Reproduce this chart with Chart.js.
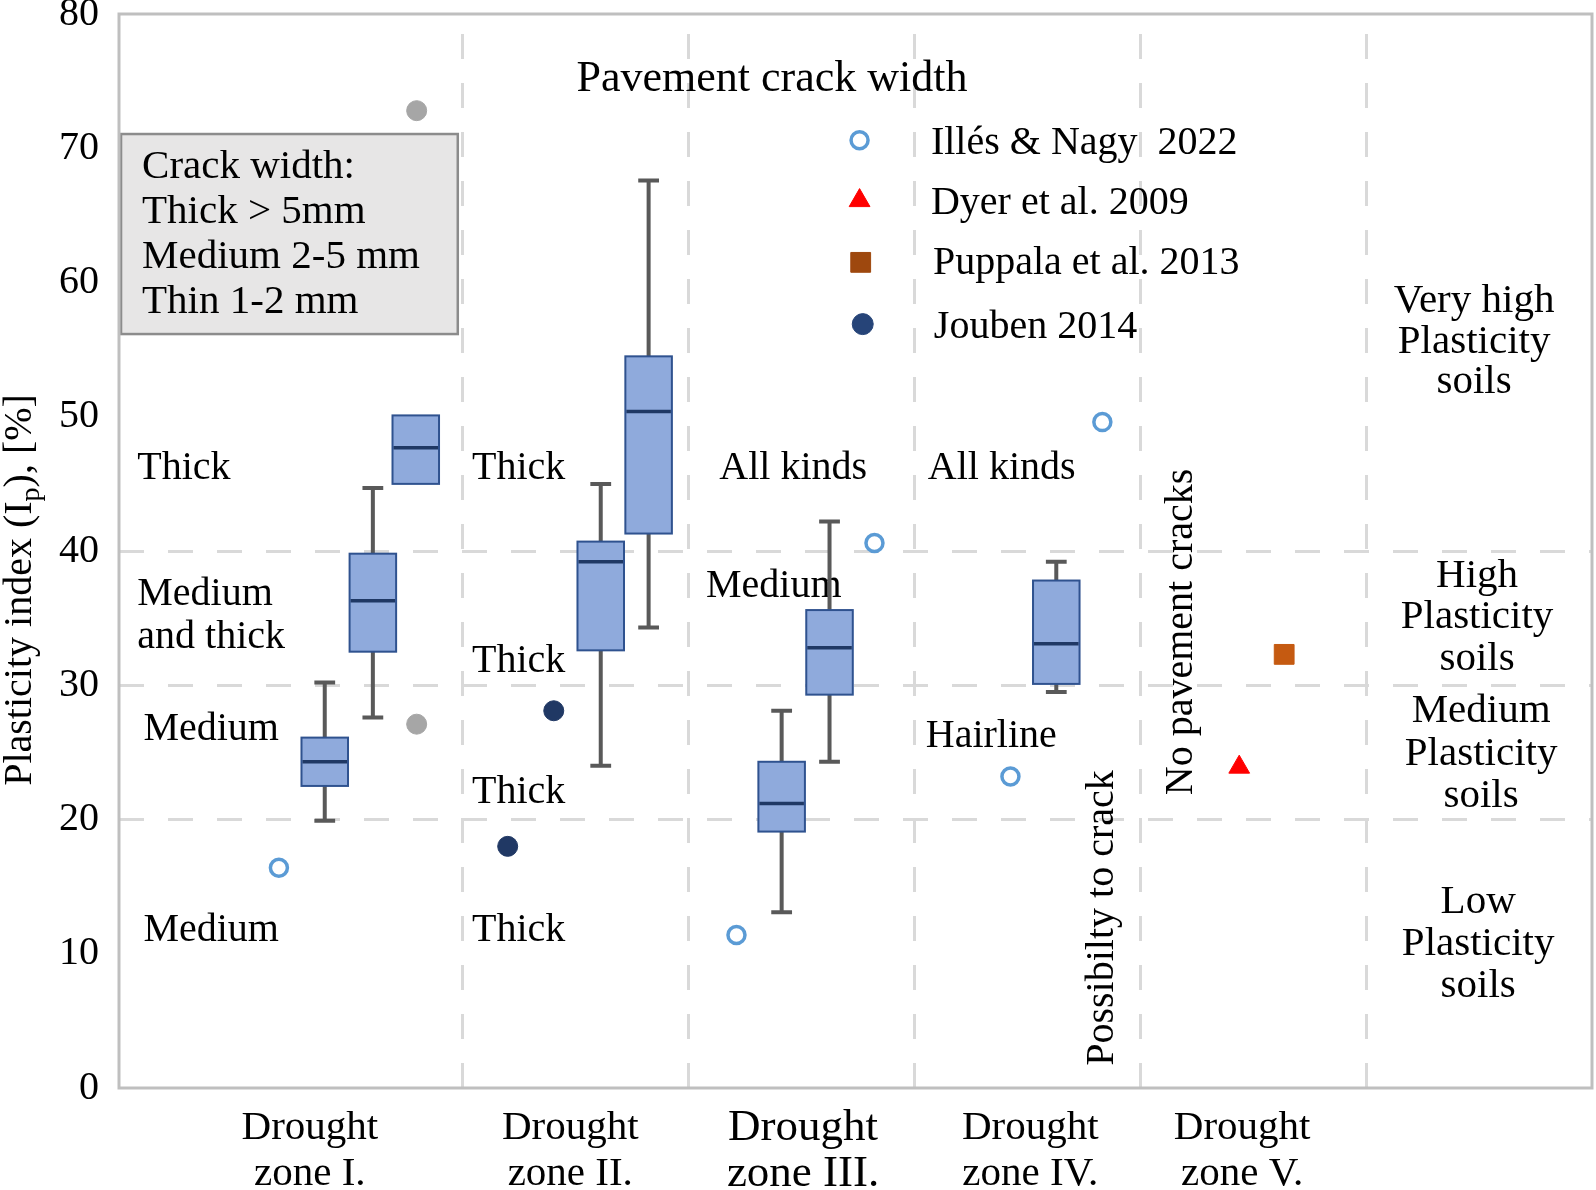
<!DOCTYPE html>
<html>
<head>
<meta charset="utf-8">
<script src="https://cdn.jsdelivr.net/npm/chart.js@4.4.1/dist/chart.umd.min.js"></script>
<style>
  html, body { margin: 0; padding: 0; background: #ffffff; }
  #wrap { width: 1596px; height: 1190px; }
</style>
</head>
<body>
<div id="wrap"><canvas id="c" width="1596" height="1190"></canvas></div>
<script>
// ---------------- data ----------------
const categories = [
  ['Drought', 'zone I.'],
  ['Drought', 'zone II.'],
  ['Drought', 'zone III.'],
  ['Drought', 'zone IV.'],
  ['Drought', 'zone V.']
];
const categoryTickPos = [0.323, 1.476, 2.507, 3.513, 4.451];
const zoneBoundaries = [1, 2, 3, 4, 5];
const plasticityLimits = [20, 30, 40];

// box plots (Illés & Nagy 2022 measurements)
const boxX   = [0.389, 0.602, 0.792, 1.611, 1.823, 2.412, 2.624, 3.628];
const boxMin = [19.9, 27.6, 45.0, 24.0, 34.3, 13.1, 24.3, 29.5];
const boxQ1  = [22.5, 32.5, 45.0, 32.6, 41.3, 19.1, 29.3, 30.1];
const boxMed = [24.3, 36.3, 47.7, 39.2, 50.4, 21.2, 32.8, 33.1];
const boxQ3  = [26.1, 39.8, 50.1, 40.7, 54.5, 24.3, 35.6, 37.8];
const boxMax = [30.2, 44.7, 50.1, 45.0, 67.6, 28.1, 42.2, 39.2];

const outlierX = [0.796, 0.796];
const outlierY = [72.8, 27.1];
const illesX = [0.186, 2.212, 2.823, 3.425, 3.832];
const illesY = [16.4, 11.4, 40.6, 23.2, 49.6];
const dyerX = [4.438];
const dyerY = [23.9];
const puppalaX = [4.637];
const puppalaY = [32.3];
const joubenX = [1.199, 1.403];
const joubenY = [18.0, 28.1];

const seriesNames = ['Illés & Nagy  2022', 'Dyer et al. 2009', 'Puppala et al. 2013', 'Jouben 2014'];

// ---------------- layout (text positions in data units) ----------------
const FONT = '"Liberation Serif", "Times New Roman", Times, serif';
const X_MIN = -0.522, X_MAX = 6;

const crackNotes = [
  ['Thick', -0.441, 45.4], ['Medium', -0.441, 36.0], ['and thick', -0.441, 32.8],
  ['Medium', -0.414, 25.9], ['Medium', -0.414, 10.95],
  ['Thick', 1.041, 45.4], ['Thick', 1.041, 31.0], ['Thick', 1.041, 21.2], ['Thick', 1.041, 10.95],
  ['All kinds', 2.136, 45.4], ['Medium', 2.077, 36.6],
  ['All kinds', 3.059, 45.4], ['Hairline', 3.050, 25.4]
];
const soilNotes = [
  [['Very high', 'Plasticity', 'soils'], 5.478, [57.80, 54.75, 51.77]],
  [['High', 'Plasticity', 'soils'], 5.491, [37.32, 34.26, 31.14]],
  [['Medium', 'Plasticity', 'soils'], 5.509, [27.26, 24.06, 20.93]],
  [['Low', 'Plasticity', 'soils'], 5.496, [13.04, 9.91, 6.78]]
];
const crackBoxLines = ['Crack width:', 'Thick > 5mm', 'Medium 2-5 mm', 'Thin 1-2 mm'];

function toXY(xs, ys) { return xs.map((x, i) => ({ x: x, y: ys[i] })); }

const overlayPlugin = {
  id: 'overlay',
  beforeDatasetsDraw(chart) {
    const ctx = chart.ctx;
    const sx = v => chart.scales.x.getPixelForValue(v);
    const sy = v => chart.scales.y.getPixelForValue(v);
    ctx.save();
    // crack width box
    const bx1 = sx(-0.513), bx2 = sx(0.978), by1 = sy(71.06), by2 = sy(56.16);
    ctx.fillStyle = '#e7e6e6';
    ctx.fillRect(bx1, by1, bx2 - bx1, by2 - by1);
    ctx.strokeStyle = '#8c8c8c';
    ctx.lineWidth = 2.5;
    ctx.strokeRect(bx1, by1, bx2 - bx1, by2 - by1);
    ctx.fillStyle = '#000';
    ctx.textBaseline = 'alphabetic';
    ctx.textAlign = 'left';
    ctx.font = '41px ' + FONT;
    const boxBase = [67.78, 64.43, 61.08, 57.73];
    crackBoxLines.forEach((t, i) => ctx.fillText(t, sx(-0.420), sy(boxBase[i])));

    // title
    ctx.font = '44px ' + FONT;
    ctx.fillText('Pavement crack width', sx(1.504), sy(74.26));

    // crack notes
    ctx.font = '40px ' + FONT;
    crackNotes.forEach(n => ctx.fillText(n[0], sx(n[1]), sy(n[2])));

    // soil classes
    ctx.textAlign = 'center';
    ctx.font = '41px ' + FONT;
    soilNotes.forEach(s => s[0].forEach((t, i) => ctx.fillText(t, sx(s[1]), sy(s[2][i]))));

    // vertical notes
    ctx.font = '40px ' + FONT;
    [['Possibilty to crack', 3.881, 12.66], ['No pavement cracks', 4.230, 33.97]].forEach(n => {
      ctx.save();
      ctx.translate(sx(n[1]), sy(n[2]));
      ctx.rotate(-Math.PI / 2);
      ctx.textAlign = 'center';
      ctx.fillText(n[0], 0, 0);
      ctx.restore();
    });

    // box plots
    const halfW = 0.103, capHalf = 0.046;
    for (let i = 0; i < boxX.length; i++) {
      const xc = sx(boxX[i]);
      const xl = sx(boxX[i] - halfW), xr = sx(boxX[i] + halfW);
      const cl = sx(boxX[i] - capHalf), cr = sx(boxX[i] + capHalf);
      ctx.strokeStyle = '#595959';
      ctx.lineWidth = 4;
      ctx.lineCap = 'butt';
      if (boxMax[i] > boxQ3[i]) {
        ctx.beginPath();
        ctx.moveTo(xc, sy(boxQ3[i])); ctx.lineTo(xc, sy(boxMax[i]));
        ctx.moveTo(cl, sy(boxMax[i])); ctx.lineTo(cr, sy(boxMax[i]));
        ctx.stroke();
      }
      if (boxMin[i] < boxQ1[i]) {
        ctx.beginPath();
        ctx.moveTo(xc, sy(boxQ1[i])); ctx.lineTo(xc, sy(boxMin[i]));
        ctx.moveTo(cl, sy(boxMin[i])); ctx.lineTo(cr, sy(boxMin[i]));
        ctx.stroke();
      }
      const yt = sy(boxQ3[i]), yb = sy(boxQ1[i]);
      ctx.fillStyle = '#8faadc';
      ctx.fillRect(xl, yt, xr - xl, yb - yt);
      ctx.strokeStyle = '#2f528f';
      ctx.lineWidth = 2;
      ctx.strokeRect(xl, yt, xr - xl, yb - yt);
      ctx.strokeStyle = '#1f3864';
      ctx.lineWidth = 3.5;
      ctx.beginPath();
      ctx.moveTo(xl + 1, sy(boxMed[i])); ctx.lineTo(xr - 1, sy(boxMed[i]));
      ctx.stroke();
    }
    ctx.restore();
  },
  afterDatasetsDraw(chart) {
    const ctx = chart.ctx;
    const sx = v => chart.scales.x.getPixelForValue(v);
    const sy = v => chart.scales.y.getPixelForValue(v);
    // legend
    const markers = [
      { style: 'circle', r: 8.5, fill: '#ffffff', stroke: '#5b9bd5', bw: 3.5, x: 2.757, y: 70.6, tx: 3.073, ty: 69.6 },
      { style: 'triangle', r: 12, fill: '#ff0000', stroke: '#ff0000', bw: 1, x: 2.757, y: 66.1, tx: 3.073, ty: 65.1 },
      { style: 'rect', r: 14, fill: '#9e480e', stroke: '#9e480e', bw: 1, x: 2.762, y: 61.5, tx: 3.082, ty: 60.6 },
      { style: 'circle', r: 10.5, fill: '#264478', stroke: '#264478', bw: 1, x: 2.771, y: 56.9, tx: 3.086, ty: 55.9 }
    ];
    ctx.save();
    markers.forEach((m, i) => {
      ctx.fillStyle = m.fill;
      ctx.strokeStyle = m.stroke;
      ctx.lineWidth = m.bw;
      Chart.helpers.drawPoint(ctx, { pointStyle: m.style, radius: m.r, rotation: 0, borderWidth: m.bw }, sx(m.x), sy(m.y));
      ctx.fillStyle = '#000';
      ctx.font = '40px ' + FONT;
      ctx.textAlign = 'left';
      ctx.textBaseline = 'alphabetic';
      ctx.fillText(seriesNames[i], sx(m.tx), sy(m.ty));
    });
    ctx.restore();
  },
  afterDraw(chart) {
    const ctx = chart.ctx;
    const a = chart.chartArea;
    ctx.save();
    ctx.strokeStyle = '#bfbfbf';
    ctx.lineWidth = 3;
    ctx.strokeRect(a.left, a.top, a.right - a.left, a.bottom - a.top);
    // y-axis title with subscript
    ctx.translate(31, 590);
    ctx.rotate(-Math.PI / 2);
    ctx.fillStyle = '#000';
    ctx.textBaseline = 'alphabetic';
    ctx.textAlign = 'left';
    const f1 = '40px ' + FONT, f2 = '28px ' + FONT;
    const parts = [['Plasticity index (I', f1, 0], ['p', f2, 8], ['), [%]', f1, 0]];
    let total = 0;
    parts.forEach(p => { ctx.font = p[1]; total += ctx.measureText(p[0]).width; });
    let cx = -total / 2;
    parts.forEach(p => { ctx.font = p[1]; ctx.fillText(p[0], cx, p[2]); cx += ctx.measureText(p[0]).width; });
    ctx.restore();
  }
};

const dash = [25, 24];

new Chart(document.getElementById('c'), {
  type: 'scatter',
  data: {
    datasets: [
      { label: seriesNames[0], data: toXY(illesX, illesY), pointStyle: 'circle', pointRadius: 8.5,
        pointBorderWidth: 3.5, borderColor: '#5b9bd5', backgroundColor: '#ffffff' },
      { label: seriesNames[1], data: toXY(dyerX, dyerY), pointStyle: 'triangle', pointRadius: 12,
        pointBorderWidth: 1, borderColor: '#ff0000', backgroundColor: '#ff0000' },
      { label: seriesNames[2], data: toXY(puppalaX, puppalaY), pointStyle: 'rect', pointRadius: 14,
        pointBorderWidth: 1, borderColor: '#c55a11', backgroundColor: '#c55a11' },
      { label: seriesNames[3], data: toXY(joubenX, joubenY), pointStyle: 'circle', pointRadius: 10,
        pointBorderWidth: 1, borderColor: '#203864', backgroundColor: '#203864' },
      { label: 'Outliers', data: toXY(outlierX, outlierY), pointStyle: 'circle', pointRadius: 10,
        pointBorderWidth: 1, borderColor: '#a6a6a6', backgroundColor: '#a6a6a6' }
    ]
  },
  options: {
    responsive: false,
    devicePixelRatio: 1,
    animation: false,
    events: [],
    layout: { padding: { top: 14, right: 4, left: 0, bottom: 0 }, autoPadding: false },
    plugins: { legend: { display: false }, tooltip: { enabled: false } },
    scales: {
      x: {
        type: 'linear', position: 'bottom', min: X_MIN, max: X_MAX, weight: 0,
        afterBuildTicks: s => { s.ticks = zoneBoundaries.map(v => ({ value: v })); },
        afterFit: s => { s.height = 0; s.paddingLeft = 0; s.paddingRight = 0; },
        ticks: { display: false },
        grid: { color: '#d9d9d9', lineWidth: 3, drawTicks: false, borderDash: dash, borderDashOffset: 29 },
        border: { display: false, dash: dash, dashOffset: 29 }
      },
      xl: {
        type: 'linear', position: 'bottom', min: X_MIN, max: X_MAX, weight: 1,
        afterBuildTicks: s => { s.ticks = categoryTickPos.map(v => ({ value: v })); },
        afterFit: s => { s.height = 102; s.paddingLeft = 0; s.paddingRight = 0; },
        ticks: {
          autoSkip: false, maxRotation: 0, minRotation: 0, padding: 17, color: '#000',
          font: c => (c.index === 2 ? { family: FONT, size: 45, lineHeight: 1.03 } : { family: FONT, size: 41, lineHeight: 1.12 }),
          callback: (v, i) => categories[i]
        },
        grid: { display: false, drawTicks: false },
        border: { display: false }
      },
      y: {
        type: 'linear', position: 'left', min: 0, max: 80,
        afterFit: s => { s.width = 119; s.paddingTop = 0; s.paddingBottom = 0; },
        ticks: { stepSize: 10, padding: 20, color: '#000', font: { family: FONT, size: 40 } },
        grid: {
          color: c => (c.tick && plasticityLimits.includes(c.tick.value)) ? '#d9d9d9' : 'rgba(0,0,0,0)',
          lineWidth: 3, drawTicks: false, borderDash: dash, borderDashOffset: 0
        },
        border: { display: false, dash: dash, dashOffset: 0 }
      }
    }
  },
  plugins: [overlayPlugin]
});
</script>
</body>
</html>
